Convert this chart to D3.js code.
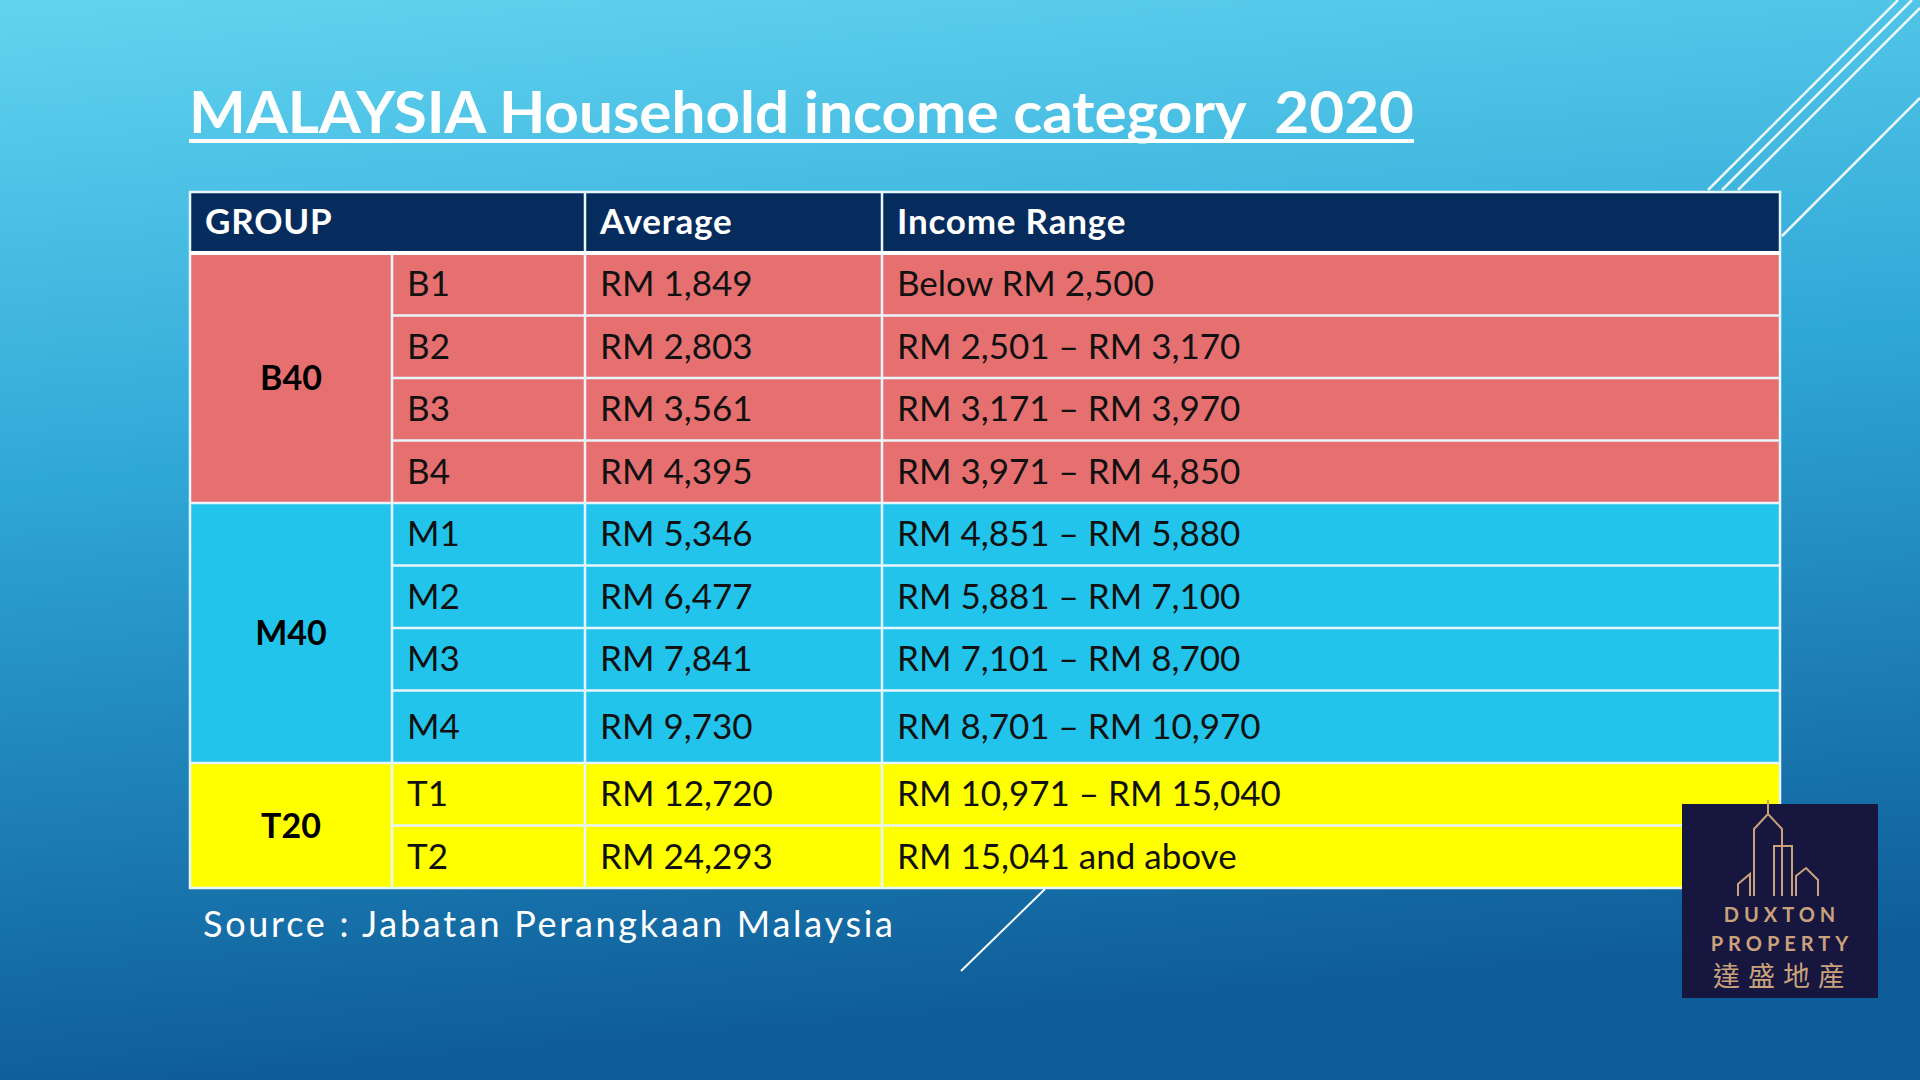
<!DOCTYPE html>
<html><head><meta charset="utf-8">
<script src="https://cdn.jsdelivr.net/npm/d3@7"></script>
<style>html,body{margin:0;padding:0;overflow:hidden}</style>
</head><body>
<script>
const groups = [{name:"B40", n:4, color:"#e67070"},{name:"M40", n:4, color:"#22c4ec"},{name:"T20", n:2, color:"#ffff00"}];
const codes = ["B1","B2","B3","B4","M1","M2","M3","M4","T1","T2"];
const averages = ["RM 1,849","RM 2,803","RM 3,561","RM 4,395","RM 5,346","RM 6,477","RM 7,841","RM 9,730","RM 12,720","RM 24,293"];
const ranges = ["Below RM 2,500","RM 2,501 – RM 3,170","RM 3,171 – RM 3,970","RM 3,971 – RM 4,850","RM 4,851 – RM 5,880","RM 5,881 – RM 7,100","RM 7,101 – RM 8,700","RM 8,701 – RM 10,970","RM 10,971 – RM 15,040","RM 15,041 and above"];
const headers = ["GROUP","Average","Income Range"];
const rowHeights = [62.5,62.5,62.5,62.5,62.5,62.5,62.5,72.5,62.5,62.5];

const W=1920,H=1080;
const svg=d3.select("body").append("svg").attr("width",W).attr("height",H);
const defs=svg.append("defs");
const g=defs.append("linearGradient").attr("id","bg").attr("x1",0).attr("y1",0).attr("x2",0.15).attr("y2",1);
g.append("stop").attr("offset",0).attr("stop-color","#62d4f0");
g.append("stop").attr("offset",0.45).attr("stop-color","#2ea6d6");
g.append("stop").attr("offset",1).attr("stop-color","#0e5c98");
svg.append("rect").attr("width",W).attr("height",H).attr("fill","url(#bg)");

[[1708,190,1898,0],[1722,190,1912,0],[1738,190,1920,8],[1782,236,1920,98]].forEach(l=>
 svg.append("line").attr("x1",l[0]).attr("y1",l[1]).attr("x2",l[2]).attr("y2",l[3]).attr("stroke","#fff").attr("stroke-width",2.5).attr("opacity",0.9));
svg.append("line").attr("x1",961).attr("y1",971).attr("x2",1045).attr("y2",889).attr("stroke","#fff").attr("stroke-width",2);

const title=svg.append("text").attr("x",189).attr("y",133).attr("fill","#fff").attr("font-family","Lato").attr("font-weight","bold").attr("font-size",58)
 .style("white-space","pre").text("MALAYSIA Household income category  2020");
title.attr("textLength",1225).attr("lengthAdjust","spacingAndGlyphs");
svg.append("rect").attr("x",189).attr("y",139).attr("width",1225).attr("height",4).attr("fill","#fff");

const colX=[190,392,585,882,1780];
const tableTop=192, headH=61;
const cum=[0]; rowHeights.forEach(h=>cum.push(cum[cum.length-1]+h));
const y=d3.scaleLinear().domain([0,cum[cum.length-1]]).range([tableTop+headH,tableTop+headH+cum[cum.length-1]]);
const font="'Lato', sans-serif";

svg.append("rect").attr("x",colX[0]).attr("y",tableTop).attr("width",colX[4]-colX[0]).attr("height",headH).attr("fill","#062c5e");
[[colX[0],headers[0]],[colX[2],headers[1]],[colX[3],headers[2]]].forEach(([x,t])=>
 svg.append("text").attr("x",x+15).attr("y",tableTop+42).attr("fill","#fff").attr("font-family",font).attr("font-weight","bold").attr("font-size",35).attr("letter-spacing",0.8).text(t));

let ri=0;
groups.forEach(gr=>{
  const y0=y(cum[ri]), y1=y(cum[ri+gr.n]);
  svg.append("rect").attr("x",colX[0]).attr("y",y0).attr("width",colX[4]-colX[0]).attr("height",y1-y0).attr("fill",gr.color);
  svg.append("text").attr("x",(colX[0]+colX[1])/2).attr("y",(y0+y1)/2+12).attr("text-anchor","middle").attr("font-family",font).attr("font-weight","bold").attr("font-size",34).attr("fill","#000").text(gr.name);
  ri+=gr.n;
});
codes.forEach((c,i)=>{
  const y0=y(cum[i]), y1=y(cum[i+1]), cy=(y0+y1)/2+12;
  [[colX[1],c],[colX[2],averages[i]],[colX[3],ranges[i]]].forEach(([x,t])=>
    svg.append("text").attr("x",x+15).attr("y",cy).attr("font-family",font).attr("font-size",35).attr("fill","#111").text(t));
});
const lw=2.5, lc="#e8f6fb";
svg.append("rect").attr("x",colX[0]).attr("y",tableTop).attr("width",colX[4]-colX[0]).attr("height",y(cum[cum.length-1])-tableTop).attr("fill","none").attr("stroke",lc).attr("stroke-width",lw);
svg.append("line").attr("x1",colX[0]).attr("x2",colX[4]).attr("y1",tableTop+headH).attr("y2",tableTop+headH).attr("stroke","#fff").attr("stroke-width",4);
cum.slice(1,-1).forEach(v=>svg.append("line").attr("x1",colX[1]).attr("x2",colX[4]).attr("y1",y(v)).attr("y2",y(v)).attr("stroke",lc).attr("stroke-width",lw));
[4,8].forEach(k=>svg.append("line").attr("x1",colX[0]).attr("x2",colX[1]).attr("y1",y(cum[k])).attr("y2",y(cum[k])).attr("stroke",lc).attr("stroke-width",lw));
[1,2,3].forEach(k=>svg.append("line").attr("x1",colX[k]).attr("x2",colX[k]).attr("y1",k==1?tableTop+headH:tableTop).attr("y2",y(cum[cum.length-1])).attr("stroke",lc).attr("stroke-width",lw));

svg.append("text").attr("x",203).attr("y",937).attr("fill","#fff").attr("font-family",font).attr("font-size",36).attr("textLength",690).attr("lengthAdjust","spacing").text("Source : Jabatan Perangkaan Malaysia");

const lg=svg.append("g").attr("transform","translate(1682,804)");
lg.append("rect").attr("width",196).attr("height",194).attr("fill","#16163f");
const gold="#c9a27c";
const bp="M56,92 V80 L68,70 V92 M72,92 V25 L86,10 L100,25 V92 M92,92 V42 H110 V92 M114,92 V72 L124,64 L136,76 V92 M86,10 V-4";
lg.append("path").attr("d",bp).attr("fill","none").attr("stroke",gold).attr("stroke-width",2);
lg.append("text").attr("x",100).attr("y",118).attr("text-anchor","middle").attr("fill",gold).attr("font-family","Lato").attr("font-weight","bold").attr("font-size",20).attr("letter-spacing",5).text("DUXTON");
lg.append("text").attr("x",100).attr("y",147).attr("text-anchor","middle").attr("fill",gold).attr("font-family","Lato").attr("font-weight","bold").attr("font-size",20).attr("letter-spacing",5).text("PROPERTY");
lg.append("text").attr("x",101).attr("y",182).attr("text-anchor","middle").attr("fill",gold).attr("font-family","'Noto Sans CJK TC'").attr("font-size",27).attr("letter-spacing",8).text("達盛地産");
</script>
</body></html>
